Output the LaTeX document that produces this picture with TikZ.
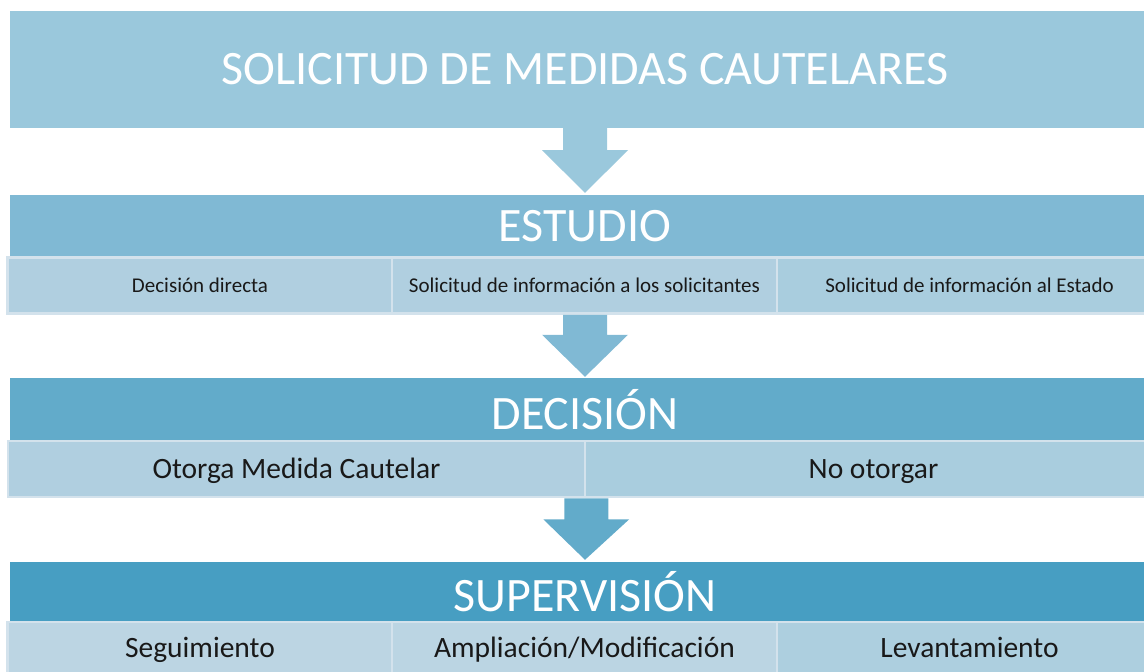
\documentclass[tikz,border=0pt]{standalone}
\usepackage{fontspec}
\setmainfont{Carlito}
\usepackage{tikz}
\usetikzlibrary{positioning, calc}
\usepackage{xcolor}
\definecolor{solC}{HTML}{9AC8DC}
\definecolor{estC}{HTML}{80B9D4}
\definecolor{decC}{HTML}{62ABCA}
\definecolor{supC}{HTML}{479EC2}
\definecolor{cellA}{HTML}{B0CFE0}
\definecolor{cellB}{HTML}{A9CDDE}
\definecolor{cellS}{HTML}{BCD5E3}
\definecolor{cellLine}{HTML}{D3E2EC}

\begin{document}
\begin{tikzpicture}[
    x=1pt, y=-1pt,
    header/.style={rectangle, inner sep=0pt, minimum width=1150pt, text=white, font=\fontsize{48}{52}\selectfont},
    cell/.style={rectangle, draw=cellLine, line width=2.5pt, inner sep=0pt, text=black!90, text height=19.5pt, text depth=0pt, minimum width=385pt, font=\fontsize{29.5}{34}\selectfont},
    smallcell/.style={cell, text height=13.5pt, font=\fontsize{21}{25}\selectfont}
]
\useasboundingbox (0,0) rectangle (1144,672);
\clip (0,0) rectangle (1144,672);

\node[header, fill=solC, minimum height=117pt] (sol) at (585,69.5) {SOLICITUD DE MEDIDAS CAUTELARES};

\node[header, fill=estC, minimum height=62pt] (est) at (585,226) {ESTUDIO};
\node[smallcell, fill=cellA, minimum height=56pt] (directa) at (200,285.5) {Decisión directa};
\node[smallcell, fill=cellA, minimum height=56pt] (infosol) at (584.5,285.5) {Solicitud de información a los solicitantes};
\node[smallcell, fill=cellB, minimum height=56pt] (infoest) at (969.5,285.5) {Solicitud de información al Estado};

\node[header, fill=decC, minimum height=63pt] (dec) at (585,409.5) {DECISIÓN};
\node[cell, fill=cellA, minimum width=577pt, minimum height=56pt] (otorga) at (296.5,469) {Otorga Medida Cautelar};
\node[cell, fill=cellB, minimum width=577pt, minimum height=56pt] (nootorga) at (873.5,469) {No otorgar};

\node[header, fill=supC, minimum height=60pt] (sup) at (585,592) {SUPERVISIÓN};
\node[cell, fill=cellS, minimum height=52pt] (seg) at (200,648) {Seguimiento};
\node[cell, fill=cellS!96!cellB, minimum height=52pt] (amp) at (584.5,648) {Ampliación/Modificación};
\node[cell, fill=cellB!80!cellS, minimum height=52pt] (lev) at (969.5,648) {Levantamiento};

% flechas entre etapas
\fill[solC] ($(sol.south)+(-22,0)$) -- ($(sol.south)+(22,0)$) -- ($(sol.south)+(22,22)$) -- ($(sol.south)+(43,22)$)
    -- ($(est.north)+(0,-2)$) -- ($(sol.south)+(-43,22)$) -- ($(sol.south)+(-22,22)$) -- cycle;
\fill[estC] ($(infosol.south)+(-21.5,0)$) -- ($(infosol.south)+(22.5,0)$) -- ($(infosol.south)+(22.5,20)$) -- ($(infosol.south)+(43.5,20)$)
    -- ($(dec.north)+(0,-1)$) -- ($(infosol.south)+(-42.5,20)$) -- ($(infosol.south)+(-21.5,20)$) -- cycle;
\fill[decC] ($(otorga.south east)+(-22,0)$) -- ($(otorga.south east)+(22,0)$) -- ($(otorga.south east)+(22,21)$) -- ($(otorga.south east)+(43,21)$)
    -- ($(sup.north)+(0,-2)$) -- ($(otorga.south east)+(-43,21)$) -- ($(otorga.south east)+(-22,21)$) -- cycle;
\end{tikzpicture}
\end{document}
